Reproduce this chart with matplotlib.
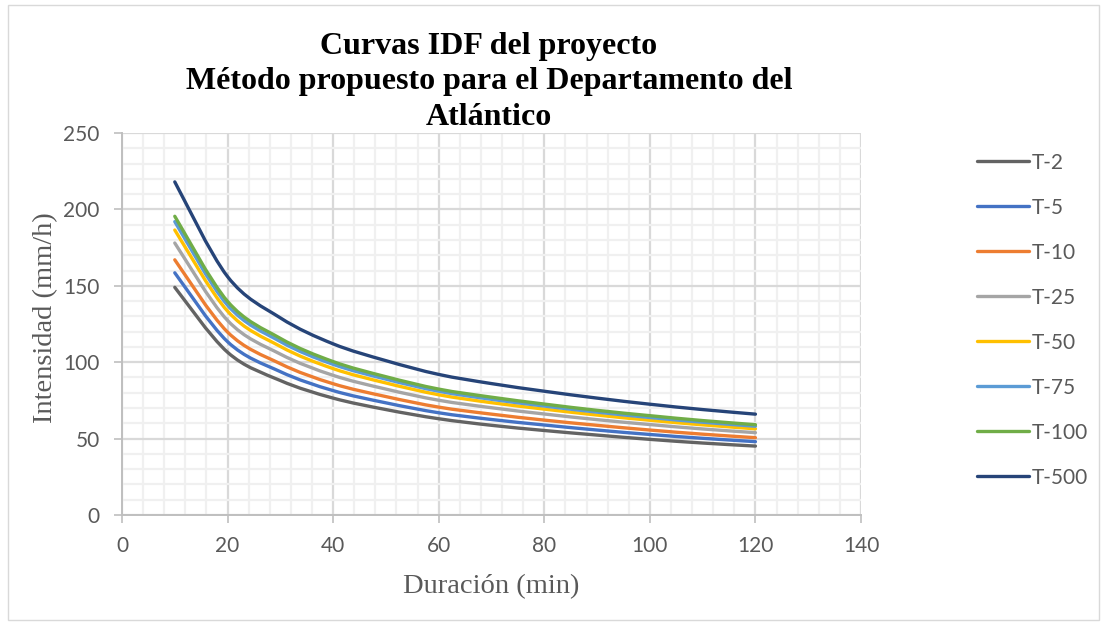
import matplotlib
matplotlib.use("Agg")
import matplotlib.pyplot as plt
from matplotlib.path import Path
from matplotlib.patches import PathPatch, Rectangle
from matplotlib.lines import Line2D
from matplotlib.ticker import MultipleLocator

# Durations (min)
duracion = [10, 20, 30, 40, 50, 60, 70, 80, 90, 100, 110, 120]

# Intensities (mm/h) per return period
t2 = [149, 106.5, 88.0, 76.5, 69.0, 63.0, 58.7, 55.3, 52.3, 49.5, 47.1, 45.1]
t5 = [158.5, 113.4, 93.8, 81.4, 73.4, 66.9, 62.5, 58.9, 55.6, 52.7, 50.2, 48.0]
t10 = [167.0, 119.7, 99.0, 85.9, 77.5, 70.6, 66.0, 62.1, 58.7, 55.6, 52.9, 50.6]
t25 = [178.0, 127.3, 105.3, 91.4, 82.4, 75.1, 70.2, 66.1, 62.4, 59.2, 56.3, 53.9]
t50 = [186.5, 133.4, 110.3, 95.8, 86.4, 78.7, 73.5, 69.3, 65.4, 62.0, 59.0, 56.4]
t75 = [192.0, 137.3, 113.5, 98.6, 88.9, 81.0, 75.7, 71.3, 67.3, 63.8, 60.7, 58.1]
t100 = [195.5, 139.8, 115.6, 100.4, 90.5, 82.4, 77.1, 72.6, 68.5, 65.0, 61.8, 59.1]
t500 = [218.0, 156.0, 129.0, 112.0, 101.0, 92.0, 86.0, 81.0, 76.5, 72.5, 69.0, 66.0]

etiquetas = ["T-2", "T-5", "T-10", "T-25", "T-50", "T-75", "T-100", "T-500"]
series = [t2, t5, t10, t25, t50, t75, t100, t500]
colores = ["#636363", "#4472C4", "#ED7D31", "#A5A5A5",
           "#FFC000", "#5B9BD5", "#70AD47", "#264478"]

x_ticks = [0, 20, 40, 60, 80, 100, 120, 140]
y_ticks = [0, 50, 100, 150, 200, 250]

TICK_FONT = ["Lato", "DejaVu Sans"]
SERIF = ["Liberation Serif", "DejaVu Serif"]


def smooth_path(xs, ys):
    """Smoothed line made of cubic Bezier segments (Catmull-Rom style)."""
    pts = list(zip(xs, ys))
    n = len(pts)
    verts = [pts[0]]
    codes = [Path.MOVETO]
    for i in range(n - 1):
        p0 = pts[i - 1] if i > 0 else pts[i]
        p1 = pts[i]
        p2 = pts[i + 1]
        p3 = pts[i + 2] if i + 2 < n else pts[i + 1]
        c1 = (p1[0] + (p2[0] - p0[0]) / 6.0, p1[1] + (p2[1] - p0[1]) / 6.0)
        c2 = (p2[0] - (p3[0] - p1[0]) / 6.0, p2[1] - (p3[1] - p1[1]) / 6.0)
        verts += [c1, c2, p2]
        codes += [Path.CURVE4] * 3
    return Path(verts, codes)


fig = plt.figure(figsize=(11.04, 6.24), dpi=100)
fig.patch.set_facecolor("white")
fig.add_artist(Rectangle((8 / 1104, 4 / 624), 1091 / 1104, 615 / 624,
                         transform=fig.transFigure, fill=False,
                         edgecolor="#d9d9d9", linewidth=1.0))

ax = fig.add_axes([122 / 1104, 1 - 515 / 624, 739 / 1104, 382 / 624])
ax.set_xlim(0, 140)
ax.set_ylim(0, 250)
ax.xaxis.set_major_locator(MultipleLocator(20))
ax.xaxis.set_minor_locator(MultipleLocator(4))
ax.yaxis.set_major_locator(MultipleLocator(50))
ax.yaxis.set_minor_locator(MultipleLocator(10))
ax.set_xticks(x_ticks)
ax.set_yticks(y_ticks)

ax.grid(which="minor", color="#f0f0f0", linewidth=1.6, zorder=0)
ax.grid(which="major", color="#d9d9d9", linewidth=1.6, zorder=0)
ax.set_axisbelow(True)

for side in ["top", "right"]:
    ax.spines[side].set_visible(False)
for side in ["left", "bottom"]:
    ax.spines[side].set_color("#bfbfbf")
    ax.spines[side].set_linewidth(1.4)

ax.tick_params(which="major", length=6, width=1.2, color="#bfbfbf",
               labelsize=15, labelcolor="#595959")
ax.tick_params(axis="x", which="major", pad=9)
ax.tick_params(axis="y", which="major", pad=10)
ax.tick_params(which="minor", length=0)
for lab in ax.get_xticklabels() + ax.get_yticklabels():
    lab.set_family(TICK_FONT)

handles = []
for vals, col, lab in zip(series, colores, etiquetas):
    patch = PathPatch(smooth_path(duracion, vals), facecolor="none",
                      edgecolor=col, linewidth=2.4, capstyle="round",
                      joinstyle="round", zorder=3)
    ax.add_patch(patch)
    handles.append(Line2D([], [], color=col, linewidth=2.4,
                          solid_capstyle="round", label=lab))

ax.set_xlabel("Duración (min)", fontsize=20.5, family=SERIF, color="#595959",
              labelpad=13)
ax.set_ylabel("Intensidad (mm/h)", fontsize=20.5, family=SERIF, color="#595959")
ax.yaxis.set_label_coords(-0.087, 0.516)

fig.text(489 / 1104, 1 - 82 / 624,
         "Curvas IDF del proyecto\nMétodo propuesto para el Departamento del\nAtlántico",
         ha="center", va="center", fontsize=23, fontweight="bold",
         family=SERIF, color="black", linespacing=1.31)

leg = fig.legend(handles=handles, loc="upper left",
                 bbox_to_anchor=(958 / 1104, 1 - 134 / 624),
                 frameon=False, handlelength=2.5, handletextpad=0.15,
                 labelspacing=1.2, prop={"family": TICK_FONT, "size": 15})
for txt in leg.get_texts():
    txt.set_color("#595959")

fig.savefig("out.png", dpi=100, facecolor="white")
